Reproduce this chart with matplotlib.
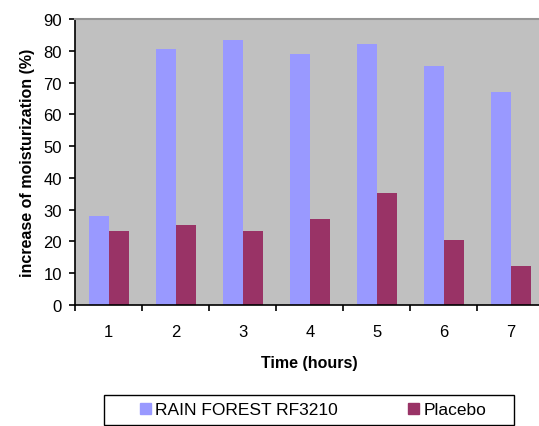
import matplotlib.pyplot as plt
import matplotlib.patches as mpatches
import numpy as np

plt.rcParams['font.family'] = ['Liberation Sans', 'DejaVu Sans']

hours = ['1', '2', '3', '4', '5', '6', '7']
rain_forest = [28.0, 80.5, 83.3, 78.9, 82.1, 75.2, 67.0]
placebo = [23.3, 25.2, 23.3, 27.0, 35.2, 20.4, 12.3]
y_ticks = [0, 10, 20, 30, 40, 50, 60, 70, 80, 90]

blue = '#9999FF'
maroon = '#993366'

W, H = 539, 427
fig = plt.figure(figsize=(W / 100, H / 100), dpi=100)
# plot area runs a little past the right edge, as in the original
ax = fig.add_axes([75.3 / W, 1 - 306 / H, 469 / W, 286 / H])
ax.set_facecolor('#C0C0C0')

x = np.arange(len(hours))
bw = 0.3
ax.bar(x - bw / 2, rain_forest, bw, color=blue, label='RAIN FOREST RF3210')
ax.bar(x + bw / 2, placebo, bw, color=maroon, label='Placebo')

ax.set_xlim(-0.5, len(hours) - 0.5)
ax.set_ylim(0, 90)
ax.set_yticks(y_ticks)
ax.set_xticks(x)
ax.set_xticklabels(hours)
ax.set_xticks(np.arange(len(hours) + 1) - 0.5, minor=True)
ax.tick_params(axis='x', which='major', length=0, pad=14, labelsize=12)
ax.tick_params(axis='x', which='minor', length=4.5, width=1.2, direction='out')
ax.tick_params(axis='y', length=4.5, width=1.2, pad=5, labelsize=12)

for s in ['left', 'bottom']:
    ax.spines[s].set_color('black')
    ax.spines[s].set_linewidth(1.2)
ax.spines['top'].set_color('#969696')
ax.spines['top'].set_linewidth(1.5)
ax.spines['right'].set_visible(False)

ax.set_xlabel('Time (hours)', fontsize=11.5, fontweight='bold', labelpad=11.5)
ax.set_ylabel('increase of moisturization (%)', fontsize=11.5, fontweight='bold', labelpad=6)

handles = [mpatches.Rectangle((0, 0), 1, 1, color=blue),
           mpatches.Rectangle((0, 0), 1, 1, color=maroon)]
fig.legend(handles, ['RAIN FOREST RF3210', 'Placebo'], loc='center',
           bbox_to_anchor=(313 / W, 1 - 411 / H), ncol=2, frameon=False,
           fontsize=12.5, handlelength=0.65, handleheight=0.65, handletextpad=0.25,
           columnspacing=4.0)
fig.patches.append(mpatches.Rectangle((104 / W, 1 - 426 / H), 410 / W, 30 / H,
                                      transform=fig.transFigure, fill=False,
                                      edgecolor='black', linewidth=1.0))

fig.savefig('out.png', dpi=100)
